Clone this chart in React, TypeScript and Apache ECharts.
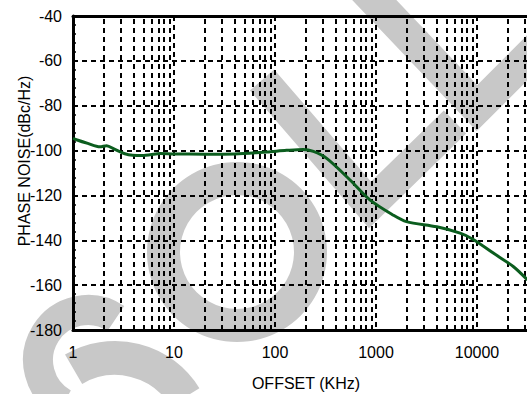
import React, { useEffect, useRef } from "react";
import * as echarts from "echarts";

const offsetKHz = [1, 1.1, 1.4, 1.85, 2.15, 2.6, 3.2, 3.9, 5, 5.8, 7.3, 10, 20, 40, 83, 130, 190, 240, 325, 550, 870, 1470, 2000, 4000, 6800, 9100, 14500, 23000, 31600];
const phaseNoise = [-94.5, -95.3, -96.8, -98.3, -97.8, -99.5, -101.3, -102.1, -102.2, -101.9, -101.3, -101.5, -101.6, -101.5, -100.6, -99.9, -99.5, -100.4, -103.5, -113, -122, -128.7, -131.7, -134, -136.8, -139.5, -145.7, -151.8, -157.7];
const minorGridX = [2, 3, 4, 5, 6, 7, 8, 9, 20, 30, 40, 50, 60, 70, 80, 90, 200, 300, 400, 500, 600, 700, 800, 900, 2000, 3000, 4000, 5000, 6000, 7000, 8000, 9000, 20000, 30000];
const xTickLabels = ["1", "10", "100", "1000", "10000"];
const xMin = 1;
const xMax = 31623;
const yMin = -180;
const yMax = -40;
const yStep = 20;

const FONT = "'Liberation Sans', Arial, sans-serif";
const GRAY = "#c8c8c8";

export default function App() {
  const ref = useRef<HTMLDivElement>(null);
  useEffect(() => {
    if (!ref.current) return;
    const chart = echarts.init(ref.current, null, { renderer: "svg" });
    const dash = [5, 4];
    chart.setOption({
      animation: false,
      backgroundColor: "#fff",
      grid: { left: 73, top: 16, bottom: 64, right: -0.5, containLabel: false, outerBoundsMode: "none" },
      xAxis: [
        {
          type: "log",
          logBase: 10,
          min: xMin,
          max: xMax,
          position: "bottom",
          axisLine: { show: true, lineStyle: { color: "#000", width: 3 } },
          axisTick: { show: false },
          minorTick: { show: false },
          splitLine: { show: true, lineStyle: { color: "#000", width: 2, type: dash } },
          axisLabel: {
            color: "#000",
            fontSize: 16,
            fontFamily: FONT,
            margin: 14,
            showMaxLabel: false,
            formatter: (v: number) => {
              const s = String(Math.round(v));
              return xTickLabels.indexOf(s) >= 0 ? s : "";
            },
          },
        },
        {
          type: "log",
          logBase: 10,
          min: xMin,
          max: xMax,
          position: "top",
          axisLine: { show: true, lineStyle: { color: "#000", width: 3 } },
          axisTick: { show: false },
          axisLabel: { show: false },
          splitLine: { show: false },
        },
      ],
      yAxis: {
        type: "value",
        min: yMin,
        max: yMax,
        interval: yStep,
        axisLine: { show: true, lineStyle: { color: "#000", width: 3 } },
        axisTick: { show: true, inside: true, length: 3, lineStyle: { color: "#000", width: 1.5 } },
        minorTick: { show: true, splitNumber: 5, length: 3, lineStyle: { color: "#000", width: 1.5 } },
        splitLine: { show: true, lineStyle: { color: "#000", width: 2, type: dash } },
        axisLabel: { color: "#000", fontSize: 16, fontFamily: FONT, margin: 11 },
      },
      graphic: [
        // watermark: S
        { type: "arc", z: -10, shape: { cx: 88, cy: 360, r: 50, startAngle: -4.2, endAngle: -0.98, clockwise: true }, style: { stroke: GRAY, lineWidth: 30, fill: null } },
        { type: "arc", z: -10, shape: { cx: 115, cy: 440, r: 82, startAngle: -2.1, endAngle: -0.55, clockwise: true }, style: { stroke: GRAY, lineWidth: 34, fill: null } },
        // O
        { type: "ring", z: -10, shape: { cx: 237, cy: 252, r: 90, r0: 57 }, style: { fill: GRAY } },
        // L
        { type: "polyline", z: -10, shape: { points: [[262, 80], [370, 205], [455, 122]] }, style: { stroke: GRAY, lineWidth: 32, fill: null, lineJoin: "miter" } },
        // D
        { type: "polyline", z: -10, shape: { points: [[360, -15], [477, 108], [550, 35]] }, style: { stroke: GRAY, lineWidth: 32, fill: null, lineJoin: "miter" } },
        {
          type: "text",
          x: 306,
          y: 383,
          style: { text: "OFFSET (KHz)", fill: "#000", fontSize: 16, fontFamily: FONT, textAlign: "center", textVerticalAlign: "middle" },
        },
        {
          type: "text",
          x: 24,
          y: 161,
          rotation: Math.PI / 2,
          style: { text: "PHASE NOISE(dBc/Hz)", fill: "#000", fontSize: 16, fontFamily: FONT, textAlign: "center", textVerticalAlign: "middle" },
        },
      ],
      series: [
        {
          type: "line",
          xAxisIndex: 0,
          data: [],
          z: 1,
          silent: true,
          markLine: {
            silent: true,
            symbol: ["none", "none"],
            label: { show: false },
            lineStyle: { color: "#000", width: 2, type: dash },
            emphasis: { disabled: true },
            data: minorGridX.map((v) => ({ xAxis: v })),
          },
        },
        {
          type: "line",
          xAxisIndex: 0,
          z: 5,
          showSymbol: false,
          smooth: 0.3,
          lineStyle: { color: "#0b5d1e", width: 3 },
          data: offsetKHz.map((x, i) => [x, phaseNoise[i]]),
        },
      ],
    });
    return () => chart.dispose();
  }, []);
  return <div ref={ref} style={{ position: "fixed", left: 0, top: 0, width: 527, height: 394 }} />;
}
